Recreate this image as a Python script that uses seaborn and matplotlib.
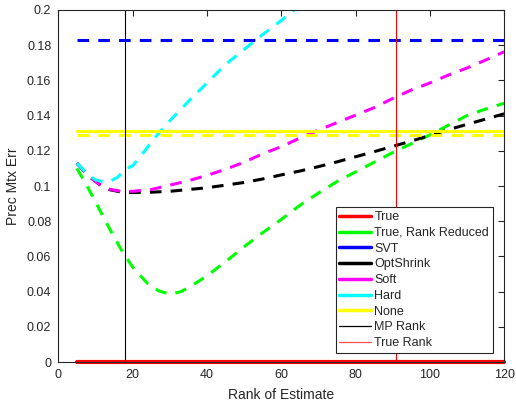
import numpy as np
import pandas as pd
import matplotlib
matplotlib.use("Agg")
import matplotlib.pyplot as plt
from matplotlib.lines import Line2D
import seaborn as sns

# Estimation error of the precision matrix versus the rank of the estimate
rank_span = [5, 120]

true_err = [0.0, 0.0]

rr_rank = [5, 8, 11, 14, 17, 20, 24, 27, 30, 33, 36, 40, 45, 50, 55, 60, 65,
           70, 75, 80, 85, 90, 95, 100, 105, 110, 115, 120]
rr_err = [0.110, 0.099, 0.087, 0.075, 0.0636, 0.054, 0.0447, 0.0405, 0.0386,
          0.0400, 0.0435, 0.049, 0.057, 0.0655, 0.0735, 0.081, 0.089, 0.096,
          0.1025, 0.108, 0.1135, 0.119, 0.124, 0.129, 0.1345, 0.140, 0.1437,
          0.147]

svt_err = [0.183, 0.183]

opt_rank = [5, 8, 11, 14, 17, 20, 25, 30, 35, 40, 45, 50, 55, 60, 65, 70, 75,
            80, 85, 90, 95, 100, 105, 110, 115, 120]
opt_err = [0.113, 0.106, 0.101, 0.0978, 0.0966, 0.0963, 0.0965, 0.097, 0.098,
           0.099, 0.1005, 0.102, 0.104, 0.1063, 0.1085, 0.111, 0.1137, 0.1166,
           0.1195, 0.1225, 0.1255, 0.1287, 0.132, 0.135, 0.138, 0.141]

soft_rank = opt_rank
soft_err = [0.113, 0.106, 0.101, 0.098, 0.097, 0.097, 0.098, 0.1005, 0.103,
            0.106, 0.1095, 0.1135, 0.1183, 0.1223, 0.1272, 0.1317, 0.136,
            0.1402, 0.1445, 0.1497, 0.1545, 0.1585, 0.163, 0.167, 0.1715,
            0.1762]

hard_rank = [5, 8, 10, 12, 14, 16, 18, 20, 22, 24, 27, 30, 35, 40, 45, 50, 55,
             60, 65]
hard_err = [0.113, 0.1065, 0.1035, 0.1025, 0.1028, 0.105, 0.1095, 0.1115,
            0.1165, 0.122, 0.130, 0.137, 0.148, 0.1585, 0.169, 0.1775, 0.186,
            0.194, 0.2025]

none_err = [0.1312, 0.1312]
none_err_dashed = [0.1287, 0.1287]

mp_rank = 18
true_rank = 91

labels = ["True", "True, Rank Reduced", "SVT", "OptShrink", "Soft", "Hard",
          "None", "MP Rank", "True Rank"]
x_ticks = [0, 20, 40, 60, 80, 100, 120]
y_ticks = [0, 0.02, 0.04, 0.06, 0.08, 0.1, 0.12, 0.14, 0.16, 0.18, 0.2]
y_tick_labels = ["0", "0.02", "0.04", "0.06", "0.08", "0.1", "0.12", "0.14",
                 "0.16", "0.18", "0.2"]

sns.set_style("white")
plt.rcParams["font.family"] = ["Liberation Sans", "DejaVu Sans"]

fig = plt.figure(figsize=(5.16, 4.12), dpi=100)
ax = fig.add_axes([0.113, 0.121, 0.864, 0.855])

dash = (3.8, 3.0)
lw = 2.2

sns.lineplot(x=rr_rank, y=rr_err, ax=ax, color="#00FF00", lw=lw)
ax.lines[-1].set_dashes(dash)
sns.lineplot(x=rank_span, y=svt_err, ax=ax, color="#0000FF", lw=lw)
ax.lines[-1].set_dashes(dash)
sns.lineplot(x=opt_rank, y=opt_err, ax=ax, color="black", lw=lw)
ax.lines[-1].set_dashes(dash)
sns.lineplot(x=soft_rank, y=soft_err, ax=ax, color="#FF00FF", lw=lw)
ax.lines[-1].set_dashes(dash)
sns.lineplot(x=hard_rank, y=hard_err, ax=ax, color="#00FFFF", lw=lw)
ax.lines[-1].set_dashes(dash)
sns.lineplot(x=rank_span, y=none_err_dashed, ax=ax, color="#FFFF00", lw=lw)
ax.lines[-1].set_dashes(dash)
sns.lineplot(x=rank_span, y=none_err, ax=ax, color="#FFFF00", lw=lw)
sns.lineplot(x=rank_span, y=true_err, ax=ax, color="#FF0000", lw=3.0,
             clip_on=False)

ax.axvline(mp_rank, color="black", lw=0.8)
ax.axvline(true_rank, color="#FF0000", lw=0.8)

ax.set_xlim(0, 120)
ax.set_ylim(0, 0.2)
ax.set_xticks(x_ticks)
ax.set_yticks(y_ticks)
ax.set_yticklabels(y_tick_labels)
ax.tick_params(direction="in", length=4, width=0.8, colors="#262626",
               labelsize=9, top=True, right=True, pad=5)
for s in ax.spines.values():
    s.set_color("#262626")
    s.set_linewidth(0.8)
ax.set_xlabel("Rank of Estimate", fontsize=10, color="#262626", labelpad=5)
ax.set_ylabel("Prec Mtx Err", fontsize=10, color="#262626", labelpad=5)

colors = ["#FF0000", "#00FF00", "#0000FF", "black", "#FF00FF", "#00FFFF",
          "#FFFF00", "black", "#FF5050"]
widths = [2.5] * 7 + [0.9, 0.9]
handles = [Line2D([], [], color=c, lw=w) for c, w in zip(colors, widths)]
leg = ax.legend(handles, labels, loc="lower right",
                bbox_to_anchor=(0.975, 0.026), fontsize=9, frameon=True,
                fancybox=False, edgecolor="#262626", framealpha=1,
                handlelength=2.5, handletextpad=0.3, labelspacing=0.3,
                borderpad=0.3, borderaxespad=0)
leg.get_frame().set_linewidth(0.8)

fig.savefig("out.png", dpi=100)
